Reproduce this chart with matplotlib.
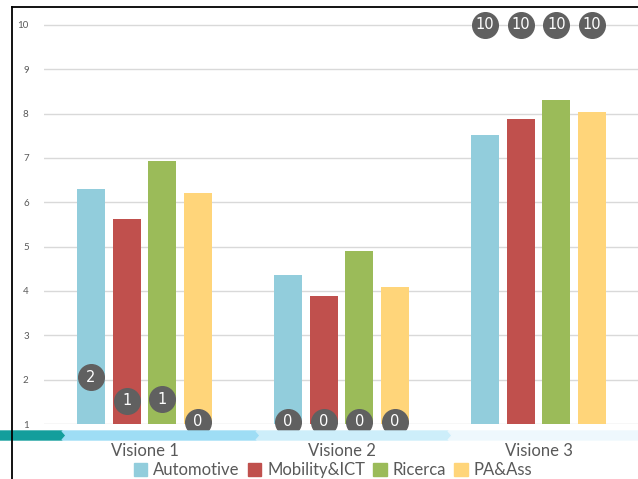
import numpy as np
import matplotlib
matplotlib.use("Agg")
import matplotlib.pyplot as plt
from matplotlib.patches import Polygon
from matplotlib.lines import Line2D

plt.rcParams['font.family'] = ['Lato', 'DejaVu Sans']

# scores per vision and group
categories = ["Visione 1", "Visione 2", "Visione 3"]
groups = ["Automotive", "Mobility&ICT", "Ricerca", "PA&Ass"]
automotive = [6.29, 4.35, 7.51]
mobility = [5.62, 3.89, 7.88]
ricerca = [6.93, 4.91, 8.31]
pa_ass = [6.22, 4.08, 8.03]

# counts shown in the round badges, and the height they sit at
badge_counts = [[2, 0, 10], [1, 0, 10], [1, 0, 10], [0, 0, 10]]
badge_y = [[2.06, 1.05, 10], [1.52, 1.05, 10], [1.56, 1.05, 10], [1.05, 1.05, 10]]

colors = ["#92CDDC", "#C0504D", "#9BBB59", "#FFD57A"]
series = [automotive, mobility, ricerca, pa_ass]

W, H = 638, 479
fig = plt.figure(figsize=(W / 100, H / 100), dpi=100)
ax = fig.add_axes([44 / W, (H - 424) / H, (638 - 44) / W, (424 - 9) / H])

x = np.arange(len(categories))
step = 0.181
width = 0.142
for i, (vals, col) in enumerate(zip(series, colors)):
    pos = x + (i - 1.5) * step
    ax.bar(pos, np.array(vals) - 1, width, bottom=1, color=col, zorder=2)
    ax.scatter(pos, badge_y[i], s=340, color="#606060", zorder=4, clip_on=False)
    for px, py, c in zip(pos, badge_y[i], badge_counts[i]):
        ax.text(px, py, str(c), color="white", fontsize=10.5, ha="center",
                va="center", zorder=5, family=["Liberation Sans Narrow", "DejaVu Sans"])

ax.set_xlim(-0.51, 2.505)
ax.set_ylim(1, 10.36)
ax.set_yticks(range(1, 11))
ax.yaxis.grid(True, color="#D9D9D9", linewidth=1, zorder=0)
ax.tick_params(axis="y", length=0, pad=11, labelsize=7, labelcolor="#595959")
ax.set_xticks(x)
ax.set_xticklabels(categories)
ax.tick_params(axis="x", length=0, pad=14, labelsize=12, labelcolor="#595959")
for s in ax.spines.values():
    s.set_visible(False)

# chevron band under the axis
band = [(0, 62, "#139E9C"), (62, 256, "#9EDDF5"), (256, 448, "#CDEEFA"), (448, 650, "#EEF8FD")]
y0, y1, tip = H - 440, H - 431, 4
for k, (a, b, col) in enumerate(band):
    ym = (y0 + y1) / 2
    pts = [(a, y0), (b, y0), (b + tip, ym), (b, y1), (a, y1)]
    if k > 0:
        pts.append((a + tip, ym))
    fig.patches.append(Polygon(pts, closed=True, transform=None, color=col,
                               zorder=1, figure=fig))

# frame lines on the left and top
fig.add_artist(Line2D([11.5 / W, 11.5 / W], [0, (H - 7) / H], color="black", lw=1.3))
fig.add_artist(Line2D([11.5 / W, 1], [(H - 7) / H, (H - 7) / H], color="black", lw=1.3))

handles = [plt.Rectangle((0, 0), 1, 1, color=c) for c in colors]
fig.legend(handles, groups, loc="center", bbox_to_anchor=(333 / W, (H - 470) / H),
           ncol=4, frameon=False, fontsize=12, handlelength=0.8, handleheight=0.8,
           handletextpad=0.35, columnspacing=0.5, labelcolor="#595959")

fig.savefig("out.png", dpi=100)
